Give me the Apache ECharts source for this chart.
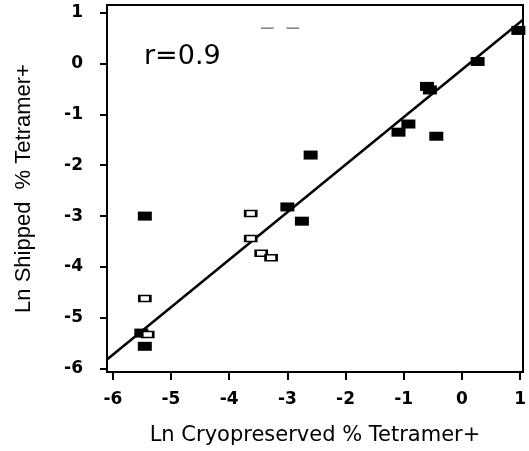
<!DOCTYPE html>
<html>
<head>
<meta charset="utf-8">
<script src="https://cdn.jsdelivr.net/npm/echarts@6/dist/echarts.min.js"></script>
<style>html,body{margin:0;padding:0;background:#fff}#c{width:529px;height:451px}</style>
</head>
<body>
<div id="c"></div>
<script>
// Tick values
var xTicks = [-6, -5, -4, -3, -2, -1, 0, 1];
var yTicks = [-6, -5, -4, -3, -2, -1, 0, 1];
// Filled squares (x, y)
var filledX = [-5.45, -5.45, -5.51, -3.0, -2.75, -2.60, -1.09, -0.92, -0.44, -0.60, -0.55, 0.27, 0.97];
var filledY = [-3.00, -5.56, -5.30, -2.82, -3.10, -1.80, -1.35, -1.19, -1.43, -0.45, -0.52, 0.04, 0.65];
// Open squares (x, y)
var openX = [-5.45, -5.40, -3.63, -3.63, -3.45, -3.28];
var openY = [-4.62, -5.33, -2.95, -3.44, -3.73, -3.82];
// Fitted line end points
var fitX = [-6.1, 1.05];
var fitY = [-5.82, 0.86];

function pairs(xs, ys) { return xs.map(function (x, i) { return [x, ys[i]]; }); }

var chart = echarts.init(document.getElementById('c'), null, { renderer: 'canvas' });
chart.setOption({
  animation: false,
  backgroundColor: '#fff',
  title: [
    { text: 'r=0.9', left: 144, top: 43, padding: 0,
      textStyle: { fontFamily: 'DejaVu Sans', fontSize: 27, fontWeight: 'normal', color: '#000' } },
    { text: '–  –', left: 261, top: 16, padding: 0,
      textStyle: { fontFamily: 'Liberation Sans', fontSize: 23, fontWeight: 'normal', color: '#888' } }
  ],
  grid: { left: 107, right: 4, top: 5, bottom: 77, show: true, borderColor: '#000', borderWidth: 2, backgroundColor: 'transparent' },
  xAxis: {
    type: 'value', min: -6.1, max: 1.05,
    name: 'Ln Cryopreserved % Tetramer+', nameLocation: 'middle', nameGap: 53,
    nameTextStyle: { fontFamily: 'DejaVu Sans', fontSize: 21, color: '#000' },
    axisLine: { show: true, onZero: false, lineStyle: { color: '#000', width: 2 } },
    axisTick: { show: true, inside: false, length: 8, customValues: xTicks, lineStyle: { color: '#000', width: 2 } },
    axisLabel: { customValues: xTicks, margin: 19, fontFamily: 'DejaVu Sans', fontWeight: 'bold', fontSize: 17, color: '#000' },
    splitLine: { show: false }
  },
  yAxis: {
    type: 'value', min: -6.065, max: 1.15,
    name: 'Ln Shipped  % Tetramer+', nameLocation: 'middle', nameGap: 72, nameRotate: 90,
    nameTextStyle: { fontFamily: 'Liberation Sans', fontSize: 22, color: '#000' },
    axisLine: { show: true, onZero: false, lineStyle: { color: '#000', width: 2 } },
    axisTick: { show: true, inside: false, length: 7, customValues: yTicks, lineStyle: { color: '#000', width: 2 } },
    axisLabel: { customValues: yTicks, margin: 24, fontFamily: 'DejaVu Sans', fontWeight: 'bold', fontSize: 17, color: '#000' },
    splitLine: { show: false }
  },
  series: [
    { type: 'line', data: pairs(fitX, fitY), symbol: 'none', lineStyle: { color: '#000', width: 2.5 }, z: 3 },
    { type: 'scatter', data: pairs(filledX, filledY), symbol: 'rect', symbolSize: [14, 9],
      itemStyle: { color: '#000', opacity: 1 }, z: 2 },
    { type: 'scatter', data: pairs(openX, openY), symbol: 'rect', symbolSize: [11, 6],
      itemStyle: { color: '#fff', borderColor: '#000', borderWidth: 2, opacity: 1 }, z: 4 }
  ]
});
</script>
</body>
</html>
